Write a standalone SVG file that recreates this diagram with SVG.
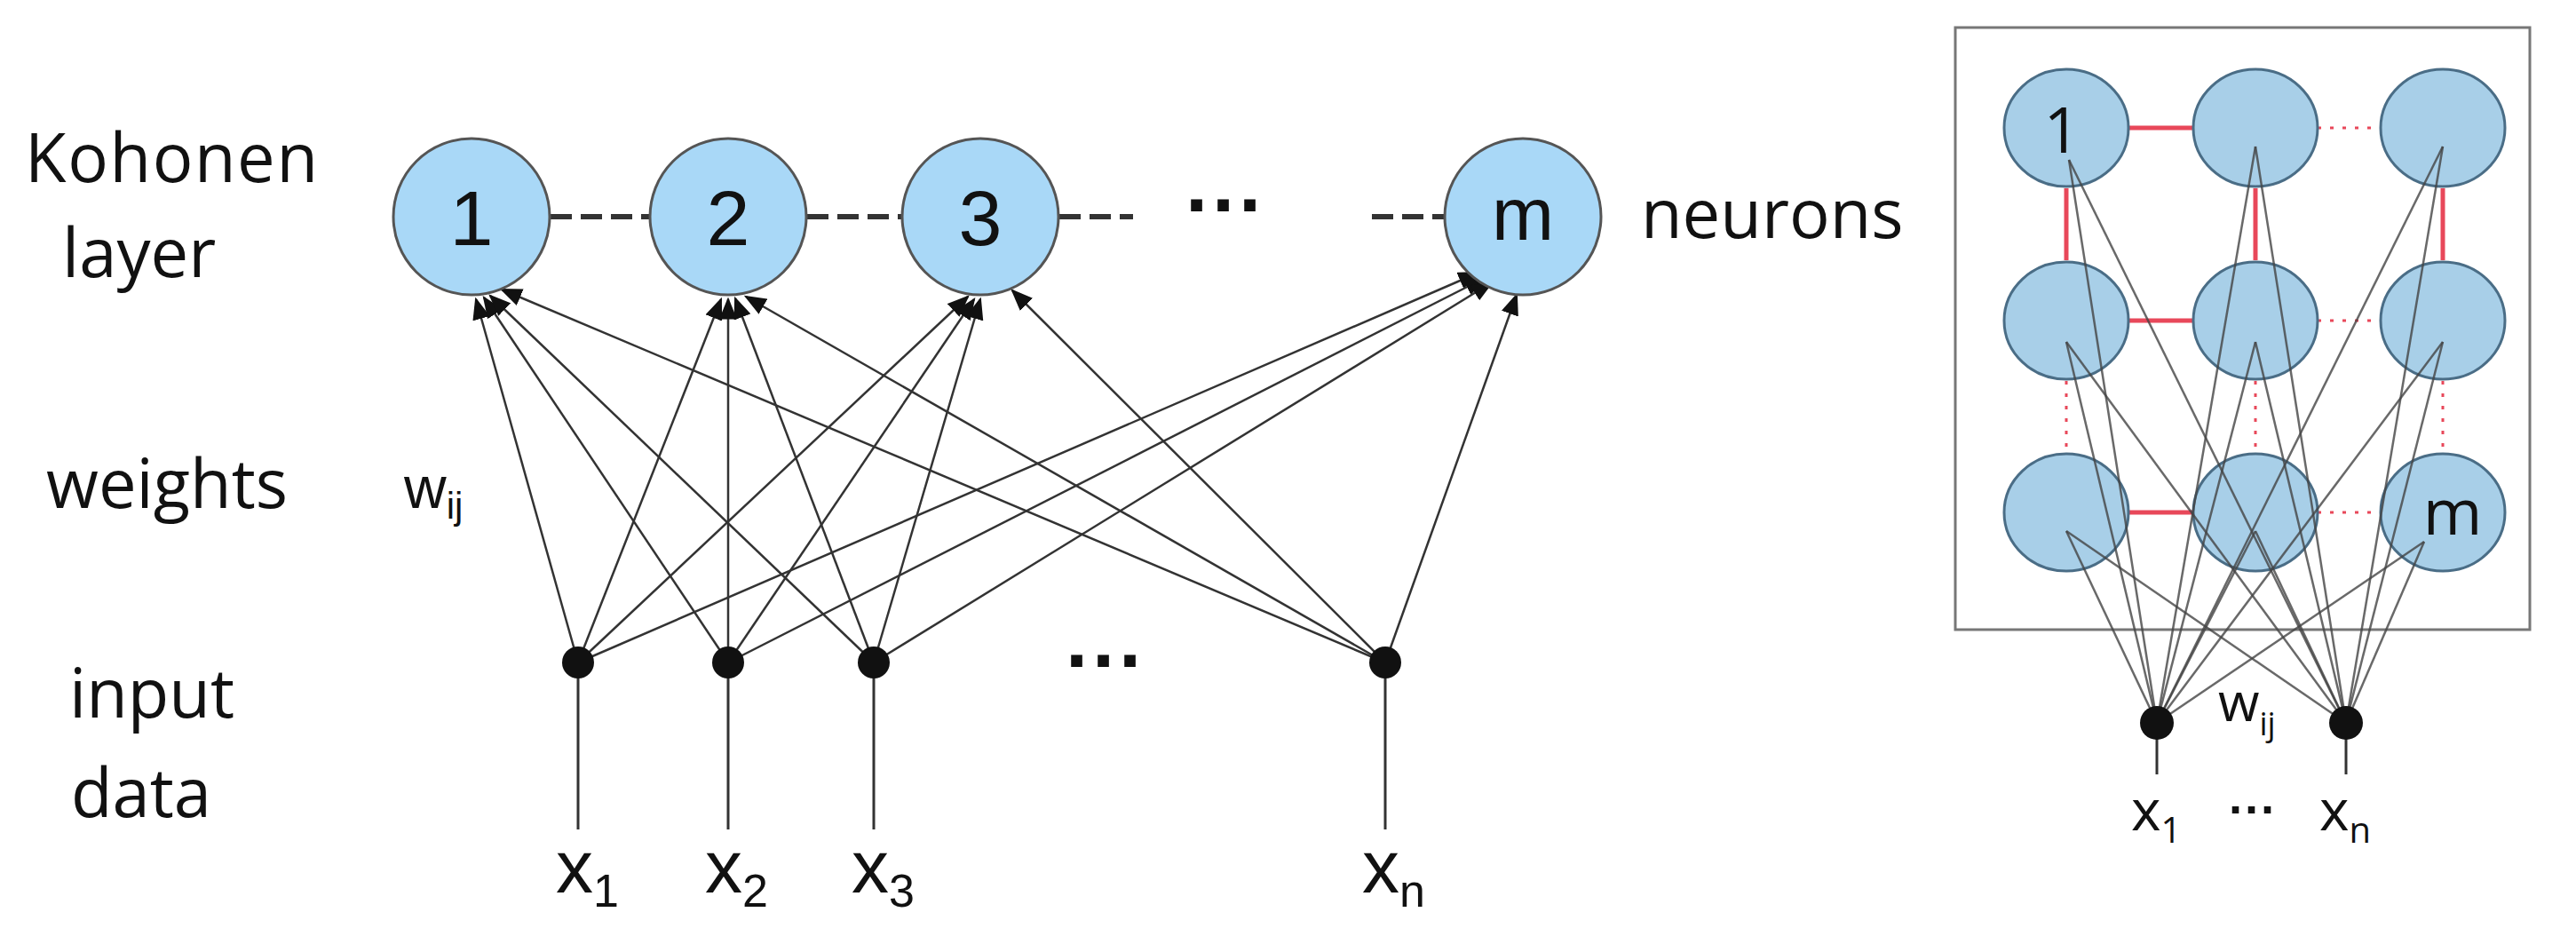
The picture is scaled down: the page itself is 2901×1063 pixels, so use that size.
<svg xmlns="http://www.w3.org/2000/svg" width="2901" height="1063" viewBox="0 0 2901 1063">
<style>
.t{font-family:"Liberation Sans",Arial,sans-serif;fill:#111}
.c{font-family:"Open Sans","Liberation Sans",sans-serif;fill:#111}
.n{fill:#a9d8f7;stroke:#555;stroke-width:3}
.g{fill:#a8cfe8;stroke:#4a6d86;stroke-width:3}
.e{stroke:#333;stroke-width:2.5;fill:none;marker-end:url(#a)}
.r{stroke:#444;stroke-width:2.5;opacity:.8}
</style>
<defs><marker id="a" markerWidth="10" markerHeight="8" refX="9" refY="4" orient="auto" markerUnits="strokeWidth"><path d="M0,0L10,4L0,8z" fill="#111"/></marker></defs>
<rect width="2901" height="1063" fill="#fff"/>
<g id="labels">
<text class="c" x="28" y="205" font-size="76" textLength="330">Kohonen</text>
<text class="c" x="70" y="312" font-size="76">layer</text>
<text class="c" x="1848" y="268" font-size="76">neurons</text>
<text class="c" x="52" y="572" font-size="76">weights</text>
<text class="t" x="455" y="572" font-size="66">w<tspan font-size="42" dy="12">ij</tspan></text>
<text class="c" x="78" y="808" font-size="76">input</text>
<text class="c" x="80" y="920" font-size="76">data</text>
<text class="t" x="1335" y="262" font-size="90" font-weight="bold">···</text>
<text class="t" x="1200" y="775" font-size="90" font-weight="bold">···</text>
</g>
<g id="connectors">
<line x1="620" y1="244" x2="731" y2="244" stroke="#333" stroke-width="6" stroke-dasharray="24,10"/>
<line x1="909" y1="244" x2="1015" y2="244" stroke="#333" stroke-width="6" stroke-dasharray="24,10"/>
<line x1="1193" y1="244" x2="1276" y2="244" stroke="#333" stroke-width="6" stroke-dasharray="24,10"/>
<line x1="1545" y1="244" x2="1626" y2="244" stroke="#333" stroke-width="6" stroke-dasharray="24,10"/>
<line class="e" x1="651" y1="746" x2="536" y2="337"/>
<line class="e" x1="651" y1="746" x2="812" y2="337"/>
<line class="e" x1="651" y1="746" x2="1090" y2="334"/>
<line class="e" x1="651" y1="746" x2="1665" y2="307"/>
<line class="e" x1="820" y1="746" x2="545" y2="335"/>
<line class="e" x1="820" y1="746" x2="820" y2="337"/>
<line class="e" x1="820" y1="746" x2="1097" y2="337"/>
<line class="e" x1="820" y1="746" x2="1672" y2="313"/>
<line class="e" x1="984" y1="746" x2="552" y2="333"/>
<line class="e" x1="984" y1="746" x2="828" y2="336"/>
<line class="e" x1="984" y1="746" x2="1104" y2="337"/>
<line class="e" x1="984" y1="746" x2="1680" y2="318"/>
<line class="e" x1="1560" y1="746" x2="565" y2="326"/>
<line class="e" x1="1560" y1="746" x2="840" y2="334"/>
<line class="e" x1="1560" y1="746" x2="1140" y2="327"/>
<line class="e" x1="1560" y1="746" x2="1708" y2="332"/>
<g stroke="#333" stroke-width="3">
<line x1="651" y1="746" x2="651" y2="934"/><line x1="820" y1="746" x2="820" y2="934"/>
<line x1="984" y1="746" x2="984" y2="934"/><line x1="1560" y1="746" x2="1560" y2="934"/>
<line x1="2429" y1="814" x2="2429" y2="872"/><line x1="2642" y1="814" x2="2642" y2="872"/>
</g>
<g stroke="#e8485a" stroke-width="5">
<line x1="2397" y1="144" x2="2470" y2="144"/><line x1="2397" y1="361" x2="2470" y2="361"/><line x1="2397" y1="577" x2="2470" y2="577"/>
<line x1="2327" y1="212" x2="2327" y2="293"/><line x1="2540" y1="212" x2="2540" y2="293"/><line x1="2751" y1="212" x2="2751" y2="293"/>
</g>
<g stroke="#e8485a" stroke-width="3" stroke-dasharray="4,10">
<line x1="2610" y1="144" x2="2681" y2="144"/><line x1="2610" y1="361" x2="2681" y2="361"/><line x1="2610" y1="577" x2="2681" y2="577"/>
<line x1="2327" y1="429" x2="2327" y2="509"/><line x1="2540" y1="429" x2="2540" y2="509"/><line x1="2751" y1="429" x2="2751" y2="509"/>
</g>
</g>
<g id="node1"><circle class="n" cx="531" cy="244" r="88"/><text class="t" x="531" y="276" font-size="88" text-anchor="middle">1</text></g>
<g id="node2"><circle class="n" cx="820" cy="244" r="88"/><text class="t" x="820" y="276" font-size="88" text-anchor="middle">2</text></g>
<g id="node3"><circle class="n" cx="1104" cy="244" r="88"/><text class="t" x="1104" y="276" font-size="88" text-anchor="middle">3</text></g>
<g id="nodem"><circle class="n" cx="1715" cy="244" r="88"/><text class="t" x="1715" y="270" font-size="84" text-anchor="middle">m</text></g>
<g id="inputs" fill="#111">
<circle cx="651" cy="746" r="18"/><circle cx="820" cy="746" r="18"/><circle cx="984" cy="746" r="18"/><circle cx="1560" cy="746" r="18"/>
</g>
<g id="xlabels" class="t" font-size="84">
<text x="626" y="1005">x<tspan font-size="52" dy="16">1</tspan></text>
<text x="794" y="1005">x<tspan font-size="52" dy="16">2</tspan></text>
<text x="959" y="1005">x<tspan font-size="52" dy="16">3</tspan></text>
<text x="1534" y="1005">x<tspan font-size="52" dy="16">n</tspan></text>
</g>
<g id="grid">
<rect x="2202" y="31" width="647" height="678" fill="none" stroke="#777" stroke-width="3"/>
<g id="g11"><ellipse class="g" cx="2327" cy="144" rx="70" ry="66"/><text class="c" x="2322" y="172" font-size="72" text-anchor="middle">1</text></g>
<g id="g12"><ellipse class="g" cx="2540" cy="144" rx="70" ry="66"/></g>
<g id="g13"><ellipse class="g" cx="2751" cy="144" rx="70" ry="66"/></g>
<g id="g21"><ellipse class="g" cx="2327" cy="361" rx="70" ry="66"/></g>
<g id="g22"><ellipse class="g" cx="2540" cy="361" rx="70" ry="66"/></g>
<g id="g23"><ellipse class="g" cx="2751" cy="361" rx="70" ry="66"/></g>
<g id="g31"><ellipse class="g" cx="2327" cy="577" rx="70" ry="66"/></g>
<g id="g32"><ellipse class="g" cx="2540" cy="577" rx="70" ry="66"/></g>
<g id="g33"><ellipse class="g" cx="2751" cy="577" rx="70" ry="66"/><text class="c" x="2762" y="602" font-size="72" text-anchor="middle">m</text></g>
<g id="gridlines">
<line class="r" x1="2429" y1="814" x2="2330" y2="180"/><line class="r" x1="2429" y1="814" x2="2540" y2="165"/><line class="r" x1="2429" y1="814" x2="2751" y2="165"/>
<line class="r" x1="2429" y1="814" x2="2327" y2="385"/><line class="r" x1="2429" y1="814" x2="2540" y2="385"/><line class="r" x1="2429" y1="814" x2="2751" y2="385"/>
<line class="r" x1="2429" y1="814" x2="2327" y2="598"/><line class="r" x1="2429" y1="814" x2="2540" y2="598"/><line class="r" x1="2429" y1="814" x2="2730" y2="610"/>
<line class="r" x1="2642" y1="814" x2="2330" y2="180"/><line class="r" x1="2642" y1="814" x2="2540" y2="165"/><line class="r" x1="2642" y1="814" x2="2751" y2="165"/>
<line class="r" x1="2642" y1="814" x2="2327" y2="385"/><line class="r" x1="2642" y1="814" x2="2540" y2="385"/><line class="r" x1="2642" y1="814" x2="2751" y2="385"/>
<line class="r" x1="2642" y1="814" x2="2327" y2="598"/><line class="r" x1="2642" y1="814" x2="2540" y2="598"/><line class="r" x1="2642" y1="814" x2="2730" y2="610"/>
</g>
<circle cx="2429" cy="814" r="19" fill="#111"/><circle cx="2642" cy="814" r="19" fill="#111"/>
<text class="c" x="2498" y="812" font-size="60">w<tspan font-size="36" dy="16">ij</tspan></text>
<text class="c" x="2400" y="935" font-size="64">x<tspan font-size="40" dy="14">1</tspan></text>
<text class="t" x="2510" y="930" font-size="54" font-weight="bold">···</text>
<text class="c" x="2612" y="935" font-size="64">x<tspan font-size="40" dy="14">n</tspan></text>
</g>
</svg>
